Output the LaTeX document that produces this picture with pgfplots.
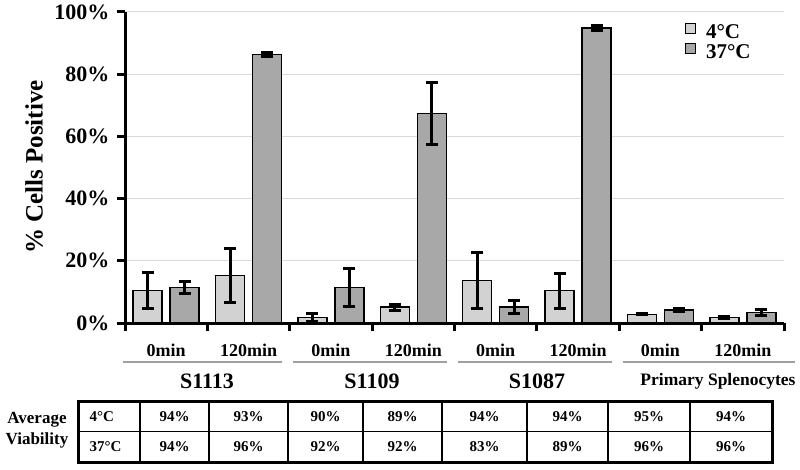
\documentclass[border=0pt]{standalone}
\usepackage{pgfplots}
\pgfplotsset{compat=1.18}
\usepackage{fontspec}
\setmainfont{Liberation Serif}
\definecolor{lightbar}{HTML}{D2D2D2}
\definecolor{darkbar}{HTML}{A8A8A8}
\definecolor{gridc}{HTML}{DADADA}
\definecolor{sepc}{HTML}{A0A0A0}
\pgfplotstableread{
x y4 e4 y37 e37
0.5 10.4 5.8 11.4 1.8
1.5 15.2 8.6 86.3 0.6
2.5 1.8 1.4 11.4 6.0
3.5 5.1 1.0 67.3 10.0
4.5 13.7 9.0 5.1 2.2
5.5 10.4 5.6 94.8 0.8
6.5 2.8 0.2 4.2 0.6
7.5 1.8 0.2 3.3 0.9
}\datatable
\begin{document}
\begin{tikzpicture}[x=1pt,y=1pt]
\useasboundingbox (0,0) rectangle (800,469);
\begin{axis}[
  at={(125pt,146pt)}, anchor=south west,
  scale only axis, width=659pt, height=311pt,
  xmin=0, xmax=8, ymin=0, ymax=100,
  axis x line=bottom, axis y line=left,
  axis line style={-, line width=3pt},
  xtick={0,1,...,8}, xticklabels={},
  ytick={0,20,40,60,80,100},
  yticklabels={0\%,20\%,40\%,60\%,80\%,100\%},
  tick style={line width=3pt, black},
  tick align=outside, major tick length=8pt,
  yticklabel style={font=\fontsize{22}{24}\selectfont\bfseries, xshift=-4pt},
  ymajorgrids, grid style={gridc, line width=1pt},
  ybar=8pt, bar width=29pt,
  clip=false,
  legend style={at={(0.845,0.972)}, anchor=north west, draw=none, fill=none,
    font=\fontsize{21}{23}\selectfont\bfseries,
    nodes={inner sep=0pt, text height=14pt, text depth=1pt, anchor=west},
    row sep=3pt},
  legend image code/.code={\draw[#1, line width=1pt] (0pt,-1pt) rectangle (10pt,9pt);},
  legend cell align=left,
]
\addplot[fill=lightbar, draw=black, line width=1.5pt,
  error bars/.cd, y dir=both, y explicit,
  error bar style={line width=3pt, black},
  error mark options={rotate=90, line width=3pt, mark size=6pt, black}]
  table[x=x, y=y4, y error=e4] {\datatable};
\addplot[fill=darkbar, draw=black, line width=1.5pt,
  error bars/.cd, y dir=both, y explicit,
  error bar style={line width=3pt, black},
  error mark options={rotate=90, line width=3pt, mark size=6pt, black}]
  table[x=x, y=y37, y error=e37] {\datatable};
\legend{\hspace{10pt}4°C,\hspace{10pt}37°C}
\end{axis}
% y label
\node[rotate=90, font=\fontsize{25}{27}\selectfont\bfseries] at (34,302) {\% Cells Positive};
% category labels
\foreach \i/\t in {0/0min,1/120min,2/0min,3/120min,4/0min,5/120min,6/0min,7/120min}{
  \node[font=\fontsize{18}{20}\selectfont\bfseries] at ({125+82.375*(\i+0.5)},119) {\t};
}
% separator lines
\draw[sepc, line width=1.5pt] (123,107) -- (282,107);
\draw[sepc, line width=1.5pt] (293,107) -- (447,107);
\draw[sepc, line width=1.5pt] (458,107) -- (612,107);
\draw[sepc, line width=1.5pt] (623,107) -- (795,107);
% group labels
\node[font=\fontsize{22}{24}\selectfont\bfseries] at (207,88) {S1113};
\node[font=\fontsize{22}{24}\selectfont\bfseries] at (372,88) {S1109};
\node[font=\fontsize{22}{24}\selectfont\bfseries] at (537,88) {S1087};
\node[font=\fontsize{17.5}{19}\selectfont\bfseries] at (718,88) {Primary Splenocytes};
% table
\node[font=\fontsize{17}{18}\selectfont\bfseries] at (37,49) {Average};
\node[font=\fontsize{17}{18}\selectfont\bfseries] at (37,29) {Viability};
\draw[line width=1.5pt] (78,37.5) -- (772,37.5);
\foreach \xx in {140,209,288,363,442,527,608,690}{
  \draw[line width=1.5pt] (\xx,7) -- (\xx,68);
}
\draw[line width=3pt] (78,7) rectangle (772,68);
\node[anchor=west, font=\fontsize{15}{16}\selectfont\bfseries] at (86,52.5) {4°C};
\node[anchor=west, font=\fontsize{15}{16}\selectfont\bfseries] at (86,22) {37°C};
\foreach \cx/\a/\b in {174.5/94/94, 248.5/93/96, 325.5/90/92, 402.5/89/92, 484.5/94/83, 567.5/94/89, 649/95/96, 731/94/96}{
  \node[font=\fontsize{15}{16}\selectfont\bfseries] at (\cx,52.5) {\a\%};
  \node[font=\fontsize{15}{16}\selectfont\bfseries] at (\cx,22) {\b\%};
}
\end{tikzpicture}
\end{document}
